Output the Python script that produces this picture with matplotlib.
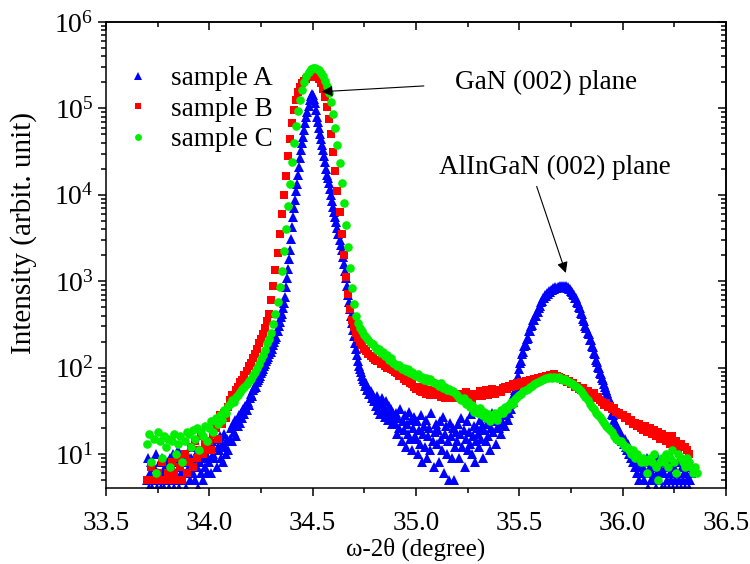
import numpy as np
import matplotlib
matplotlib.use("Agg")
from matplotlib import pyplot as plt
from matplotlib.ticker import MultipleLocator, LogLocator, NullFormatter

plt.rcParams['font.family'] = ['Liberation Serif', 'DejaVu Serif']
plt.rcParams['mathtext.fontset'] = 'custom'
plt.rcParams['mathtext.rm'] = 'Liberation Serif'
plt.rcParams['mathtext.it'] = 'Liberation Serif:italic'

# scan grids (degree)
a_start, a_step = 33.70, 0.005
bc_start, bc_step = 33.70, 0.01

# sample A counts, 0.005 deg steps from 33.70
sample_a = [
    5, 9, 4, 6, 8, 4, 7, 5, 10, 4, 6, 5, 8, 4, 9, 6, 4, 7, 5, 8,
    6, 4, 9, 5, 7, 10, 4, 6, 8, 5, 11, 4, 7, 6, 9, 5, 8, 4, 10, 6,
    7, 5, 9, 12, 6, 8, 5, 10, 7, 4, 11, 8, 6, 9, 5, 12, 7, 10, 6, 9,
    8, 12, 6, 14, 10, 9, 15, 7, 12, 11, 16, 9, 13, 8, 17, 12, 10, 15, 11, 14,
    15, 20, 14, 22, 18, 25, 16, 24, 21, 28, 23, 30, 26, 33, 29, 36, 32, 40, 37, 44,
    50, 47, 55, 58, 62, 60, 68, 72, 76, 80, 87, 92, 96, 104, 110, 118, 125, 134, 143, 152,
    150, 165, 182, 198, 212, 225, 265, 300, 340, 380, 420, 490, 560, 660, 850, 1100, 1400, 1800, 2300, 3100,
    4200, 5600, 7000, 8600, 11000, 13500, 17000, 21000, 26500, 33000,
    40000, 47000, 56000, 67000, 79000, 92000, 107000, 124000, 140000, 146000,
    144000, 130000, 114000, 97000, 80000, 69000, 59000, 51000, 44000, 38000,
    33000, 28000, 24000, 20000, 17000, 15500, 13800, 11800, 10000, 8500,
    7300, 6400, 5600, 4800, 4100, 3500, 3000, 2600, 2300, 1900, 1600, 1300, 1100, 890, 700, 580, 480, 400, 330, 270,
    230, 190, 162, 140, 120, 105, 95, 88, 80, 74, 70, 62, 66, 55, 58, 50, 53, 45, 48, 41,
    43, 36, 47, 32, 40, 29, 38, 44, 30, 35, 27, 41, 31, 25, 36, 28, 33, 22, 30, 26,
    23, 30, 17, 26, 20, 33, 14, 24, 19, 28, 12, 22, 17, 31, 15, 25, 11, 20, 27, 16,
    15, 24, 10, 19, 13, 28, 8, 17, 21, 12, 25, 9, 16, 20, 11, 30, 14, 7, 18, 22,
    13, 19, 8, 24, 15, 11, 27, 6, 17, 21, 10, 14, 5, 23, 16, 9, 20, 5, 12, 18,
    14, 22, 9, 17, 26, 12, 19, 7, 15, 24, 11, 18, 13, 29, 10, 16, 21, 8, 14, 20,
    17, 12, 25, 15, 21, 9, 19, 28, 14, 22, 16, 26, 11, 20, 30, 18, 24, 13, 27, 21,
    20, 26, 17, 29, 23, 32, 21, 28, 35, 25, 30, 38, 33, 42, 40, 50, 55, 62, 70, 80,
    95, 112, 118, 145, 150, 178, 182, 215, 220, 262, 265, 305, 310, 352, 355, 398, 400, 445, 445, 495,
    510, 575, 585, 640, 640, 685, 680, 730, 720, 765, 755, 800, 785, 825, 810, 845, 830, 865, 845, 875,
    855, 885, 860, 880, 850, 870, 835, 848, 805, 810, 760, 758, 705, 698, 645, 632, 575, 560, 505, 490,
    432, 415, 365, 350, 302, 290, 252, 242, 210, 206, 180, 173, 148, 142, 122, 117, 101, 98, 86, 85,
    76, 72, 65, 60, 55, 51, 45, 44, 36, 36, 29, 28, 25, 22, 22, 19, 19, 15, 17, 14,
    14, 13, 15, 12, 11, 13, 10, 11, 9, 10, 8, 9, 7, 8, 6, 9, 5, 7, 8, 6,
    7, 5, 8, 6, 9, 4, 7, 5, 6, 8, 5, 7, 4, 6, 9, 5, 7, 6, 4, 8,
    6, 4, 7, 5, 8, 4, 6, 5, 9, 4, 7, 5, 6, 4, 8, 5, 4, 7, 5, 6,
    4, 6, 5, 7, 4, 5, 6,
]

# sample B counts, 0.01 deg steps from 33.70
sample_b = [
    5, 5, 7, 5, 5, 6, 5, 8, 5, 5,
    6, 5, 8, 6, 5, 9, 7, 5, 10, 6,
    8, 12, 7, 14, 9, 11, 16, 10, 13, 12,
    14, 11, 17, 20, 15, 28, 22, 30, 26, 35,
    42, 48, 45, 55, 60, 68, 72, 82, 92, 104,
    114, 128, 145, 165, 190, 215, 245, 290, 350, 420,
    600, 890, 1350, 2140, 3550, 6000, 10000, 16600, 28200, 44700,
    67600, 95500, 126000, 155000, 178000, 195000, 209000, 219000, 229000, 234000,
    240000, 240000, 232000, 219000, 195000, 166000, 135000, 105000, 76000, 50000,
    31600, 19000, 11200, 6300, 3550, 2000, 1120, 710, 480, 355,
    295, 250, 219, 200, 182, 166, 155, 145, 135, 128,
    123, 118, 120, 110, 112, 104, 100, 102, 96, 93,
    90, 86, 80, 84, 74, 70, 72, 66, 64, 60,
    57, 60, 54, 52, 58, 50, 55, 48, 53, 51,
    48, 52, 46, 50, 44, 49, 47, 52, 45, 48,
    46, 50, 44, 48, 52, 45, 49, 43, 50, 47,
    49, 53, 47, 51, 55, 48, 52, 56, 50, 54,
    55, 52, 58, 60, 56, 62, 59, 64, 61, 66,
    63, 68, 65, 70, 67, 72, 69, 74, 71, 76,
    73, 78, 75, 80, 77, 82, 79, 84, 80, 78,
    76, 72, 74, 68, 70, 64, 66, 60, 62, 57,
    55, 58, 52, 54, 50, 47, 51, 44, 46, 42,
    40, 37, 39, 35, 36, 33, 34, 31, 30, 28,
    28, 26, 27, 24, 25, 22, 23, 21, 22, 20,
    19, 21, 18, 20, 17, 19, 16, 18, 15, 17,
    16, 14, 15, 13, 16, 12, 14, 11, 13, 12,
    12, 11, 10,
]

# sample C counts, 0.01 deg steps from 33.70
sample_c = [
    13, 17, 8, 15, 6, 18, 14, 9, 16, 12,
    15, 7, 14, 17, 10, 13, 16, 8, 14, 18,
    17, 12, 19, 15, 20, 11, 18, 16, 21, 14,
    20, 24, 18, 26, 22, 28, 25, 32, 30, 36,
    38, 42, 40, 46, 48, 52, 56, 60, 64, 70,
    74, 82, 90, 100, 110, 125, 140, 160, 190, 215,
    251, 316, 417, 575, 851, 1320, 2240, 3980, 7410, 13500,
    24000, 39800, 63100, 93300, 126000, 162000, 200000, 234000, 263000, 282000,
    295000, 295000, 288000, 275000, 257000, 234000, 209000, 182000, 151000, 117000,
    85100, 58900, 38000, 23400, 13800, 7940, 4470, 2510, 1410, 832,
    550, 398, 331, 288, 263, 240, 224, 209, 195, 186,
    174, 160, 165, 148, 150, 135, 140, 122, 128, 112,
    110, 104, 108, 97, 100, 92, 95, 86, 89, 82,
    80, 84, 76, 78, 72, 75, 70, 73, 68, 66,
    64, 61, 66, 58, 60, 55, 57, 53, 54, 51,
    48, 45, 42, 44, 38, 40, 35, 37, 31, 33,
    30, 34, 28, 31, 26, 29, 24, 27, 30, 25,
    29, 32, 30, 35, 33, 37, 40, 38, 43, 46,
    48, 50, 53, 55, 57, 59, 61, 64, 66, 68,
    70, 72, 74, 76, 75, 77, 76, 78, 75, 77,
    74, 72, 73, 70, 68, 66, 64, 62, 59, 57,
    54, 50, 46, 42, 38, 35, 33, 30, 28, 27,
    25, 23, 21, 20, 19, 18, 16, 15, 14, 14,
    13, 12, 12, 11, 10, 11, 9, 10, 9, 8,
    9, 8, 6, 9, 8, 10, 7, 5, 8, 9,
    8, 10, 7, 9, 11, 8, 6, 10, 9, 8,
    7, 9, 8, 7, 6, 7, 6,
]

labels = ['sample A', 'sample B', 'sample C']

xa = a_start + a_step * np.arange(len(sample_a))
xb = bc_start + bc_step * np.arange(len(sample_b))
xc = bc_start + bc_step * np.arange(len(sample_c))

fig = plt.figure(figsize=(7.5, 5.64), dpi=100)
ax = fig.add_axes([0.1413, 0.1353, 0.8267, 0.8257])

ax.plot(xa, sample_a, ls='none', marker='^', ms=6.5, mew=0, color='#0000ff', label=labels[0])
ax.plot(xb, sample_b, ls='none', marker='s', ms=5.6, mew=0, color='#ff0000', label=labels[1])
ax.plot(xc, sample_c, ls='none', marker='o', ms=6.2, mew=0, color='#00ee00', label=labels[2])

ax.set_yscale('log')
ax.set_xlim(33.5, 36.5)
ax.set_ylim(4.07, 1e6)

ax.xaxis.set_major_locator(MultipleLocator(0.5))
ax.xaxis.set_minor_locator(MultipleLocator(0.25))
ax.yaxis.set_major_locator(LogLocator(base=10, numticks=10))
ax.yaxis.set_minor_locator(LogLocator(base=10, subs=np.arange(2, 10), numticks=10))
ax.yaxis.set_minor_formatter(NullFormatter())
ax.xaxis.set_major_formatter(plt.FuncFormatter(lambda v, p: f"{v:.1f}"))

ax.tick_params(which='both', direction='out', width=1.1)
ax.tick_params(which='major', length=6)
ax.tick_params(which='minor', length=3.5)
ax.tick_params(axis='x', pad=11, labelsize=19.5)
ax.tick_params(axis='y', pad=3, labelsize=20)

# mirrored ticks pointing inward on top and right
top = ax.secondary_xaxis('top')
top.xaxis.set_major_locator(MultipleLocator(0.5))
top.xaxis.set_minor_locator(MultipleLocator(0.25))
top.tick_params(which='both', direction='in', labeltop=False, width=1.1)
top.tick_params(which='major', length=6)
top.tick_params(which='minor', length=3.5)
right = ax.secondary_yaxis('right')
right.yaxis.set_major_locator(LogLocator(base=10, numticks=10))
right.yaxis.set_minor_locator(LogLocator(base=10, subs=np.arange(2, 10), numticks=10))
right.yaxis.set_major_formatter(NullFormatter())
right.yaxis.set_minor_formatter(NullFormatter())
right.tick_params(which='both', direction='in', width=1.1)
right.tick_params(which='major', length=6)
right.tick_params(which='minor', length=3.5)

for s in list(ax.spines.values()) + [top.spines['top'], right.spines['right']]:
    s.set_linewidth(1.1)

ax.set_xlabel('ω-2θ (degree)', fontsize=18, labelpad=1)
ax.set_ylabel('Intensity (arbit. unit)', fontsize=21)
ax.yaxis.set_label_coords(-0.112, 0.547)

ax.legend(loc='upper left', bbox_to_anchor=(0.030, 0.905), frameon=False,
          fontsize=19.5, handlelength=1.0, handletextpad=0.72, labelspacing=0.2,
          borderaxespad=0, borderpad=0, markerscale=0.8)

arrow = dict(arrowstyle='-|>', color='black', lw=0.8, mutation_scale=16,
             shrinkA=0, shrinkB=0)
ax.annotate('', xy=(34.544, 1.56e5), xytext=(35.038, 1.82e5), arrowprops=arrow)
ax.text(35.188, 2.0e5, 'GaN (002) plane', fontsize=19.5, ha='left', va='center')
ax.annotate('', xy=(35.725, 1245), xytext=(35.584, 12500), arrowprops=arrow)
ax.text(35.111, 2.1e4, 'AlInGaN (002) plane', fontsize=19.5, ha='left', va='center')

fig.savefig('out.png', dpi=100)
